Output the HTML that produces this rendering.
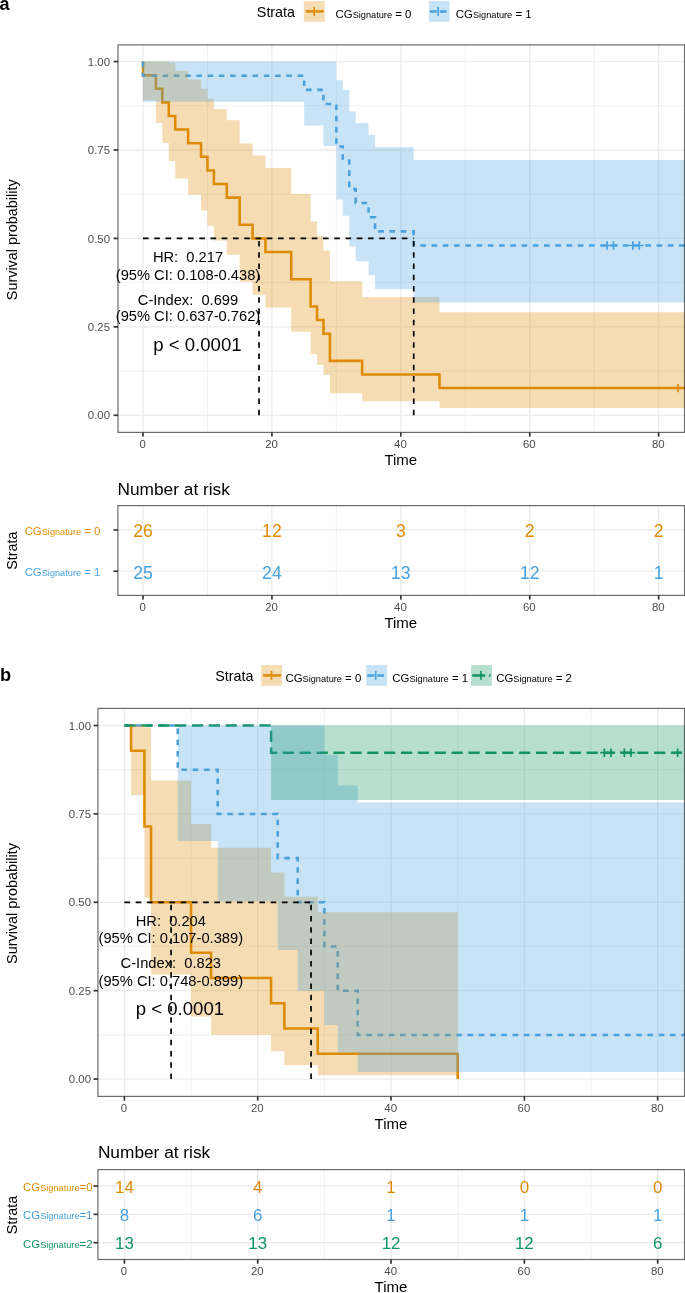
<!DOCTYPE html>
<html><head><meta charset="utf-8"><style>
html,body{margin:0;padding:0;background:#fff;width:685px;height:1293px;overflow:hidden}
svg{display:block;position:absolute;left:0;top:0;font-family:"Liberation Sans", sans-serif;will-change:transform}
</style></head><body>
<svg width="685" height="1293" viewBox="0 0 685 1293">
<rect width="685" height="1293" fill="#fff"/>
<text x="-0.40" y="10.30" font-size="18.0" fill="#000" text-anchor="start" font-weight="bold">a</text>
<text x="295.00" y="17.20" font-size="14.3" fill="#000" text-anchor="end" >Strata</text>
<rect x="303.90" y="1.00" width="20.8" height="20.8" fill="#DE8B04" fill-opacity="0.3"/><path d="M305.80,11.40H323.80" stroke="#DE8B04" stroke-width="2.5" fill="none"/><line x1="314.20" y1="7.00" x2="314.20" y2="15.80" stroke="#DE8B04" stroke-width="1.7"/>
<text x="335.60" y="17.70" fill="#000" text-anchor="start" xml:space="preserve"><tspan font-size="11.4">CG</tspan><tspan font-size="9.2" dy="0">Signature</tspan><tspan font-size="11.4" dy="0"> = 0</tspan></text>
<rect x="428.80" y="1.00" width="20.8" height="20.8" fill="#48A2DE" fill-opacity="0.3"/><path d="M429.80,11.40H436.90M439.80,11.40H446.60" stroke="#48A2DE" stroke-width="2.5" fill="none"/><line x1="438.20" y1="7.00" x2="438.20" y2="15.80" stroke="#48A2DE" stroke-width="1.7"/>
<text x="455.80" y="17.70" fill="#000" text-anchor="start" xml:space="preserve"><tspan font-size="11.4">CG</tspan><tspan font-size="9.2" dy="0">Signature</tspan><tspan font-size="11.4" dy="0"> = 1</tspan></text>
<clipPath id="ca"><rect x="117.22" y="43.86" width="567.78" height="389.13"/></clipPath>
<line x1="207.46" y1="43.86" x2="207.46" y2="432.99" stroke="#EBEBEB" stroke-width="0.7"/>
<line x1="336.37" y1="43.86" x2="336.37" y2="432.99" stroke="#EBEBEB" stroke-width="0.7"/>
<line x1="465.28" y1="43.86" x2="465.28" y2="432.99" stroke="#EBEBEB" stroke-width="0.7"/>
<line x1="594.19" y1="43.86" x2="594.19" y2="432.99" stroke="#EBEBEB" stroke-width="0.7"/>
<line x1="117.22" y1="371.08" x2="685.00" y2="371.08" stroke="#EBEBEB" stroke-width="0.7"/>
<line x1="117.22" y1="282.64" x2="685.00" y2="282.64" stroke="#EBEBEB" stroke-width="0.7"/>
<line x1="117.22" y1="194.21" x2="685.00" y2="194.21" stroke="#EBEBEB" stroke-width="0.7"/>
<line x1="117.22" y1="105.77" x2="685.00" y2="105.77" stroke="#EBEBEB" stroke-width="0.7"/>
<line x1="143.00" y1="43.86" x2="143.00" y2="432.99" stroke="#EBEBEB" stroke-width="1.3"/>
<line x1="271.91" y1="43.86" x2="271.91" y2="432.99" stroke="#EBEBEB" stroke-width="1.3"/>
<line x1="400.82" y1="43.86" x2="400.82" y2="432.99" stroke="#EBEBEB" stroke-width="1.3"/>
<line x1="529.74" y1="43.86" x2="529.74" y2="432.99" stroke="#EBEBEB" stroke-width="1.3"/>
<line x1="658.65" y1="43.86" x2="658.65" y2="432.99" stroke="#EBEBEB" stroke-width="1.3"/>
<line x1="117.22" y1="415.30" x2="685.00" y2="415.30" stroke="#EBEBEB" stroke-width="1.3"/>
<line x1="117.22" y1="326.86" x2="685.00" y2="326.86" stroke="#EBEBEB" stroke-width="1.3"/>
<line x1="117.22" y1="238.43" x2="685.00" y2="238.43" stroke="#EBEBEB" stroke-width="1.3"/>
<line x1="117.22" y1="149.99" x2="685.00" y2="149.99" stroke="#EBEBEB" stroke-width="1.3"/>
<line x1="117.22" y1="61.55" x2="685.00" y2="61.55" stroke="#EBEBEB" stroke-width="1.3"/>
<g clip-path="url(#ca)">
<path d="M143.00,61.55H143.00V75.16H155.89V88.76H162.34V102.37H168.78V115.97H175.23V129.58H188.12V143.18H201.01V156.79H207.46V170.40H213.90V184.00H226.79V197.61H239.68V224.82H252.58V238.43H265.47V252.03H291.25V279.24H310.59V306.45H317.03V320.06H323.48V333.67H329.92V360.88H362.15V374.48H439.50V388.09H723.10" fill="none" stroke="#DE8B04" stroke-width="2.55"/>
<path d="M143.00,61.55H143.00V75.70H304.14V89.85H323.48V104.00H336.37V146.45H342.81V160.60H349.26V188.90H355.70V203.05H368.60V217.20H375.04V231.35H413.72V245.50H723.10" fill="none" stroke="#48A2DE" stroke-width="2.55" stroke-dasharray="5.625 5.625"/>
<path d="M143.00,61.55 L155.89,61.55 L155.89,61.55 L162.34,61.55 L162.34,61.55 L168.78,61.55 L168.78,62.66 L175.23,62.66 L175.23,70.63 L188.12,70.63 L188.12,79.42 L201.01,79.42 L201.01,88.86 L207.46,88.86 L207.46,98.86 L213.90,98.86 L213.90,109.36 L226.79,109.36 L226.79,120.30 L239.68,120.30 L239.68,143.40 L252.58,143.40 L252.58,155.52 L265.47,155.52 L265.47,168.00 L291.25,168.00 L291.25,194.05 L310.59,194.05 L310.59,221.56 L317.03,221.56 L317.03,235.89 L323.48,235.89 L323.48,250.61 L329.92,250.61 L329.92,281.24 L362.15,281.24 L362.15,296.98 L439.50,296.98 L439.50,312.25 L723.10,312.25 L723.10,408.11 L439.50,408.11 L439.50,401.22 L362.15,401.22 L362.15,393.21 L329.92,393.21 L329.92,374.83 L323.48,374.83 L323.48,364.74 L317.03,364.74 L317.03,354.15 L310.59,354.15 L310.59,331.63 L291.25,331.63 L291.25,307.51 L265.47,307.51 L265.47,294.87 L252.58,294.87 L252.58,281.86 L239.68,281.86 L239.68,254.65 L226.79,254.65 L226.79,240.43 L213.90,240.43 L213.90,225.76 L207.46,225.76 L207.46,210.59 L201.01,210.59 L201.01,194.85 L188.12,194.85 L188.12,178.44 L175.23,178.44 L175.23,161.22 L168.78,161.22 L168.78,142.93 L162.34,142.93 L162.34,123.06 L155.89,123.06 L155.89,100.33 L143.00,100.33Z" fill="#DE8B04" fill-opacity="0.3" stroke="none"/>
<path d="M143.00,61.55 L304.14,61.55 L304.14,61.55 L323.48,61.55 L323.48,61.55 L336.37,61.55 L336.37,80.20 L342.81,80.20 L342.81,90.07 L349.26,90.07 L349.26,111.52 L355.70,111.52 L355.70,122.99 L368.60,122.99 L368.60,134.89 L375.04,134.89 L375.04,147.22 L413.72,147.22 L413.72,159.95 L723.10,159.95 L723.10,302.39 L413.72,302.39 L413.72,289.08 L375.04,289.08 L375.04,275.35 L368.60,275.35 L368.60,261.19 L355.70,261.19 L355.70,246.57 L349.26,246.57 L349.26,215.84 L342.81,215.84 L342.81,199.60 L336.37,199.60 L336.37,145.95 L323.48,145.95 L323.48,125.38 L304.14,125.38 L304.14,101.81 L143.00,101.81Z" fill="#48A2DE" fill-opacity="0.3" stroke="none"/>
<path d="M673.78,388.09H682.18M677.98,383.89V392.29" stroke="#DE8B04" stroke-width="1.7" fill="none"/>
<path d="M602.88,245.50H611.28M607.08,241.30V249.70" stroke="#48A2DE" stroke-width="1.7" fill="none"/>
<path d="M609.33,245.50H617.73M613.53,241.30V249.70" stroke="#48A2DE" stroke-width="1.7" fill="none"/>
<path d="M628.67,245.50H637.07M632.87,241.30V249.70" stroke="#48A2DE" stroke-width="1.7" fill="none"/>
<path d="M635.11,245.50H643.51M639.31,241.30V249.70" stroke="#48A2DE" stroke-width="1.7" fill="none"/>
<path d="M143.00,238.43H413.72" stroke="#000" stroke-width="1.7" stroke-dasharray="5.625 5.625" fill="none"/>
<path d="M259.02,415.30V238.43" stroke="#000" stroke-width="1.7" stroke-dasharray="5.625 5.625" fill="none"/>
<path d="M413.72,415.30V238.43" stroke="#000" stroke-width="1.7" stroke-dasharray="5.625 5.625" fill="none"/>
</g>
<text x="188.00" y="261.80" font-size="14.7" fill="#000" text-anchor="middle" xml:space="preserve">HR:  0.217</text>
<text x="188.00" y="279.60" font-size="14.7" fill="#000" text-anchor="middle" xml:space="preserve">(95% CI: 0.108-0.438)</text>
<text x="188.00" y="304.50" font-size="14.7" fill="#000" text-anchor="middle" xml:space="preserve">C-Index:  0.699</text>
<text x="188.00" y="320.90" font-size="14.7" fill="#000" text-anchor="middle" xml:space="preserve">(95% CI: 0.637-0.762)</text>
<text x="197.40" y="351.20" font-size="18.6" fill="#000" text-anchor="middle" xml:space="preserve">p &lt; 0.0001</text>
<rect x="118.00" y="44.90" width="566.50" height="387.50" fill="none" stroke="#333333" stroke-width="1.2" stroke-opacity="0.72"/>
<line x1="143.00" y1="432.40" x2="143.00" y2="436.60" stroke="#333333" stroke-width="1.7"/>
<text x="142.60" y="448.00" font-size="11.4" fill="#4D4D4D" text-anchor="middle" >0</text>
<line x1="271.91" y1="432.40" x2="271.91" y2="436.60" stroke="#333333" stroke-width="1.7"/>
<text x="271.51" y="448.00" font-size="11.4" fill="#4D4D4D" text-anchor="middle" >20</text>
<line x1="400.82" y1="432.40" x2="400.82" y2="436.60" stroke="#333333" stroke-width="1.7"/>
<text x="400.42" y="448.00" font-size="11.4" fill="#4D4D4D" text-anchor="middle" >40</text>
<line x1="529.74" y1="432.40" x2="529.74" y2="436.60" stroke="#333333" stroke-width="1.7"/>
<text x="529.34" y="448.00" font-size="11.4" fill="#4D4D4D" text-anchor="middle" >60</text>
<line x1="658.65" y1="432.40" x2="658.65" y2="436.60" stroke="#333333" stroke-width="1.7"/>
<text x="658.25" y="448.00" font-size="11.4" fill="#4D4D4D" text-anchor="middle" >80</text>
<line x1="113.60" y1="415.30" x2="118.00" y2="415.30" stroke="#333333" stroke-width="1.7"/>
<line x1="113.60" y1="326.86" x2="118.00" y2="326.86" stroke="#333333" stroke-width="1.7"/>
<line x1="113.60" y1="238.43" x2="118.00" y2="238.43" stroke="#333333" stroke-width="1.7"/>
<line x1="113.60" y1="149.99" x2="118.00" y2="149.99" stroke="#333333" stroke-width="1.7"/>
<line x1="113.60" y1="61.55" x2="118.00" y2="61.55" stroke="#333333" stroke-width="1.7"/>
<text x="110.00" y="419.40" font-size="11.4" fill="#4D4D4D" text-anchor="end" >0.00</text>
<text x="110.00" y="330.96" font-size="11.4" fill="#4D4D4D" text-anchor="end" >0.25</text>
<text x="110.00" y="242.53" font-size="11.4" fill="#4D4D4D" text-anchor="end" >0.50</text>
<text x="110.00" y="154.09" font-size="11.4" fill="#4D4D4D" text-anchor="end" >0.75</text>
<text x="110.00" y="65.65" font-size="11.4" fill="#4D4D4D" text-anchor="end" >1.00</text>
<text x="400.80" y="465.00" font-size="15.0" fill="#000" text-anchor="middle" >Time</text>
<text transform="translate(17.0,239.8) rotate(-90)" font-size="14.4" fill="#000" text-anchor="middle">Survival probability</text>
<text x="117.50" y="494.50" font-size="17.3" fill="#000" text-anchor="start" >Number at risk</text>
<line x1="207.46" y1="505.00" x2="207.46" y2="596.00" stroke="#EBEBEB" stroke-width="0.7"/>
<line x1="336.37" y1="505.00" x2="336.37" y2="596.00" stroke="#EBEBEB" stroke-width="0.7"/>
<line x1="465.28" y1="505.00" x2="465.28" y2="596.00" stroke="#EBEBEB" stroke-width="0.7"/>
<line x1="594.19" y1="505.00" x2="594.19" y2="596.00" stroke="#EBEBEB" stroke-width="0.7"/>
<line x1="143.00" y1="505.00" x2="143.00" y2="596.00" stroke="#EBEBEB" stroke-width="1.3"/>
<line x1="271.91" y1="505.00" x2="271.91" y2="596.00" stroke="#EBEBEB" stroke-width="1.3"/>
<line x1="400.82" y1="505.00" x2="400.82" y2="596.00" stroke="#EBEBEB" stroke-width="1.3"/>
<line x1="529.74" y1="505.00" x2="529.74" y2="596.00" stroke="#EBEBEB" stroke-width="1.3"/>
<line x1="658.65" y1="505.00" x2="658.65" y2="596.00" stroke="#EBEBEB" stroke-width="1.3"/>
<line x1="117.22" y1="530.00" x2="685.00" y2="530.00" stroke="#EBEBEB" stroke-width="1.3"/>
<line x1="117.22" y1="571.20" x2="685.00" y2="571.20" stroke="#EBEBEB" stroke-width="1.3"/>
<text x="143.00" y="537.40" font-size="17.6" fill="#DE8B04" text-anchor="middle" >26</text>
<text x="271.91" y="537.40" font-size="17.6" fill="#DE8B04" text-anchor="middle" >12</text>
<text x="400.82" y="537.40" font-size="17.6" fill="#DE8B04" text-anchor="middle" >3</text>
<text x="529.74" y="537.40" font-size="17.6" fill="#DE8B04" text-anchor="middle" >2</text>
<text x="658.65" y="537.40" font-size="17.6" fill="#DE8B04" text-anchor="middle" >2</text>
<text x="143.00" y="578.60" font-size="17.6" fill="#48A2DE" text-anchor="middle" >25</text>
<text x="271.91" y="578.60" font-size="17.6" fill="#48A2DE" text-anchor="middle" >24</text>
<text x="400.82" y="578.60" font-size="17.6" fill="#48A2DE" text-anchor="middle" >13</text>
<text x="529.74" y="578.60" font-size="17.6" fill="#48A2DE" text-anchor="middle" >12</text>
<text x="658.65" y="578.60" font-size="17.6" fill="#48A2DE" text-anchor="middle" >1</text>
<rect x="117.90" y="505.60" width="566.60" height="89.80" fill="none" stroke="#333333" stroke-width="1.2" stroke-opacity="0.72"/>
<line x1="113.50" y1="530.00" x2="117.90" y2="530.00" stroke="#333333" stroke-width="1.7"/>
<line x1="113.50" y1="571.20" x2="117.90" y2="571.20" stroke="#333333" stroke-width="1.7"/>
<text x="100.40" y="534.80" fill="#DE8B04" text-anchor="end" xml:space="preserve"><tspan font-size="11.4">CG</tspan><tspan font-size="9.2" dy="0">Signature</tspan><tspan font-size="11.4" dy="0"> = 0</tspan></text>
<text x="100.40" y="576.00" fill="#48A2DE" text-anchor="end" xml:space="preserve"><tspan font-size="11.4">CG</tspan><tspan font-size="9.2" dy="0">Signature</tspan><tspan font-size="11.4" dy="0"> = 1</tspan></text>
<line x1="143.00" y1="595.40" x2="143.00" y2="599.60" stroke="#333333" stroke-width="1.7"/>
<text x="142.60" y="611.00" font-size="11.4" fill="#4D4D4D" text-anchor="middle" >0</text>
<line x1="271.91" y1="595.40" x2="271.91" y2="599.60" stroke="#333333" stroke-width="1.7"/>
<text x="271.51" y="611.00" font-size="11.4" fill="#4D4D4D" text-anchor="middle" >20</text>
<line x1="400.82" y1="595.40" x2="400.82" y2="599.60" stroke="#333333" stroke-width="1.7"/>
<text x="400.42" y="611.00" font-size="11.4" fill="#4D4D4D" text-anchor="middle" >40</text>
<line x1="529.74" y1="595.40" x2="529.74" y2="599.60" stroke="#333333" stroke-width="1.7"/>
<text x="529.34" y="611.00" font-size="11.4" fill="#4D4D4D" text-anchor="middle" >60</text>
<line x1="658.65" y1="595.40" x2="658.65" y2="599.60" stroke="#333333" stroke-width="1.7"/>
<text x="658.25" y="611.00" font-size="11.4" fill="#4D4D4D" text-anchor="middle" >80</text>
<text x="400.80" y="628.40" font-size="15.0" fill="#000" text-anchor="middle" >Time</text>
<text transform="translate(17.0,550.6) rotate(-90)" font-size="14.4" fill="#000" text-anchor="middle">Strata</text>
<text x="-0.10" y="681.00" font-size="18.2" fill="#000" text-anchor="start" font-weight="bold">b</text>
<text x="253.40" y="681.00" font-size="14.3" fill="#000" text-anchor="end" >Strata</text>
<rect x="261.20" y="665.00" width="20.8" height="20.8" fill="#DE8B04" fill-opacity="0.3"/><path d="M263.10,675.40H281.10" stroke="#DE8B04" stroke-width="2.5" fill="none"/><line x1="271.50" y1="671.00" x2="271.50" y2="679.80" stroke="#DE8B04" stroke-width="1.7"/>
<text x="285.50" y="681.60" fill="#000" text-anchor="start" xml:space="preserve"><tspan font-size="11.4">CG</tspan><tspan font-size="9.2" dy="0">Signature</tspan><tspan font-size="11.4" dy="0"> = 0</tspan></text>
<rect x="366.30" y="665.00" width="20.8" height="20.8" fill="#48A2DE" fill-opacity="0.3"/><path d="M367.30,675.40H374.40M377.30,675.40H384.10" stroke="#48A2DE" stroke-width="2.5" fill="none"/><line x1="375.70" y1="671.00" x2="375.70" y2="679.80" stroke="#48A2DE" stroke-width="1.7"/>
<text x="392.30" y="681.60" fill="#000" text-anchor="start" xml:space="preserve"><tspan font-size="11.4">CG</tspan><tspan font-size="9.2" dy="0">Signature</tspan><tspan font-size="11.4" dy="0"> = 1</tspan></text>
<rect x="471.10" y="665.00" width="20.8" height="20.8" fill="#129462" fill-opacity="0.3"/><path d="M472.20,675.40H485.20M489.00,675.40H490.50" stroke="#129462" stroke-width="2.5" fill="none"/><line x1="481.00" y1="671.00" x2="481.00" y2="679.80" stroke="#129462" stroke-width="1.7"/>
<text x="496.20" y="681.60" fill="#000" text-anchor="start" xml:space="preserve"><tspan font-size="11.4">CG</tspan><tspan font-size="9.2" dy="0">Signature</tspan><tspan font-size="11.4" dy="0"> = 2</tspan></text>
<clipPath id="cb"><rect x="97.74" y="707.40" width="587.26" height="389.40"/></clipPath>
<line x1="191.06" y1="707.40" x2="191.06" y2="1096.80" stroke="#EBEBEB" stroke-width="0.7"/>
<line x1="324.38" y1="707.40" x2="324.38" y2="1096.80" stroke="#EBEBEB" stroke-width="0.7"/>
<line x1="457.70" y1="707.40" x2="457.70" y2="1096.80" stroke="#EBEBEB" stroke-width="0.7"/>
<line x1="591.02" y1="707.40" x2="591.02" y2="1096.80" stroke="#EBEBEB" stroke-width="0.7"/>
<line x1="97.74" y1="1034.90" x2="685.00" y2="1034.90" stroke="#EBEBEB" stroke-width="0.7"/>
<line x1="97.74" y1="946.50" x2="685.00" y2="946.50" stroke="#EBEBEB" stroke-width="0.7"/>
<line x1="97.74" y1="858.10" x2="685.00" y2="858.10" stroke="#EBEBEB" stroke-width="0.7"/>
<line x1="97.74" y1="769.70" x2="685.00" y2="769.70" stroke="#EBEBEB" stroke-width="0.7"/>
<line x1="124.40" y1="707.40" x2="124.40" y2="1096.80" stroke="#EBEBEB" stroke-width="1.3"/>
<line x1="257.72" y1="707.40" x2="257.72" y2="1096.80" stroke="#EBEBEB" stroke-width="1.3"/>
<line x1="391.04" y1="707.40" x2="391.04" y2="1096.80" stroke="#EBEBEB" stroke-width="1.3"/>
<line x1="524.36" y1="707.40" x2="524.36" y2="1096.80" stroke="#EBEBEB" stroke-width="1.3"/>
<line x1="657.68" y1="707.40" x2="657.68" y2="1096.80" stroke="#EBEBEB" stroke-width="1.3"/>
<line x1="97.74" y1="1079.10" x2="685.00" y2="1079.10" stroke="#EBEBEB" stroke-width="1.3"/>
<line x1="97.74" y1="990.70" x2="685.00" y2="990.70" stroke="#EBEBEB" stroke-width="1.3"/>
<line x1="97.74" y1="902.30" x2="685.00" y2="902.30" stroke="#EBEBEB" stroke-width="1.3"/>
<line x1="97.74" y1="813.90" x2="685.00" y2="813.90" stroke="#EBEBEB" stroke-width="1.3"/>
<line x1="97.74" y1="725.50" x2="685.00" y2="725.50" stroke="#EBEBEB" stroke-width="1.3"/>
<g clip-path="url(#cb)">
<path d="M124.40,725.50H124.40V725.50H131.07V750.76H144.40V826.53H151.06V902.30H191.06V952.81H211.06V978.07H271.05V1003.33H284.38V1028.59H317.71V1053.84H457.70V1079.10H457.70" fill="none" stroke="#DE8B04" stroke-width="2.55"/>
<path d="M124.40,725.50H124.40V725.50H177.73V769.70H217.72V813.90H277.72V858.10H297.72V902.30H324.38V946.50H337.71V990.70H357.71V1034.90H724.34" fill="none" stroke="#48A2DE" stroke-width="2.55" stroke-dasharray="5.625 5.625"/>
<path d="M124.40,725.50H124.40V725.50H271.05V752.70H724.34" fill="none" stroke="#129462" stroke-width="2.55" stroke-dasharray="11.25 5.625"/>
<path d="M124.40,725.50 L131.07,725.50 L131.07,725.50 L144.40,725.50 L144.40,727.32 L151.06,727.32 L151.06,780.58 L191.06,780.58 L191.06,824.08 L211.06,824.08 L211.06,847.81 L271.05,847.81 L271.05,872.50 L284.38,872.50 L284.38,896.85 L317.71,896.85 L317.71,912.13 L457.70,912.13 L457.70,1075.28 L317.71,1075.28 L317.71,1065.10 L284.38,1065.10 L284.38,1051.31 L271.05,1051.31 L271.05,1034.97 L211.06,1034.97 L211.06,1016.56 L191.06,1016.56 L191.06,974.39 L151.06,974.39 L151.06,897.76 L144.40,897.76 L144.40,795.16 L131.07,795.16 L131.07,725.50 L124.40,725.50Z" fill="#DE8B04" fill-opacity="0.3" stroke="none"/>
<path d="M124.40,725.50 L177.73,725.50 L177.73,725.50 L217.72,725.50 L217.72,725.50 L277.72,725.50 L277.72,725.50 L297.72,725.50 L297.72,725.56 L324.38,725.56 L324.38,754.71 L337.71,754.71 L337.71,785.53 L357.71,785.53 L357.71,802.62 L724.34,802.62 L724.34,1072.03 L357.71,1072.03 L357.71,1052.48 L337.71,1052.48 L337.71,1024.90 L324.38,1024.90 L324.38,990.68 L297.72,990.68 L297.72,949.90 L277.72,949.90 L277.72,901.35 L217.72,901.35 L217.72,840.99 L177.73,840.99 L177.73,725.50 L124.40,725.50Z" fill="#48A2DE" fill-opacity="0.3" stroke="none"/>
<path d="M124.40,725.50 L271.05,725.50 L271.05,725.50 L724.34,725.50 L724.34,800.10 L271.05,800.10 L271.05,725.50 L124.40,725.50Z" fill="#129462" fill-opacity="0.3" stroke="none"/>
<path d="M600.15,752.70H608.55M604.35,748.50V756.90" stroke="#129462" stroke-width="1.7" fill="none"/>
<path d="M606.82,752.70H615.22M611.02,748.50V756.90" stroke="#129462" stroke-width="1.7" fill="none"/>
<path d="M620.15,752.70H628.55M624.35,748.50V756.90" stroke="#129462" stroke-width="1.7" fill="none"/>
<path d="M626.82,752.70H635.22M631.02,748.50V756.90" stroke="#129462" stroke-width="1.7" fill="none"/>
<path d="M673.48,752.70H681.88M677.68,748.50V756.90" stroke="#129462" stroke-width="1.7" fill="none"/>
<path d="M124.40,902.30H311.05" stroke="#000" stroke-width="1.7" stroke-dasharray="5.625 5.625" fill="none"/>
<path d="M171.06,1079.10V902.30" stroke="#000" stroke-width="1.7" stroke-dasharray="5.625 5.625" fill="none"/>
<path d="M311.05,1079.10V902.30" stroke="#000" stroke-width="1.7" stroke-dasharray="5.625 5.625" fill="none"/>
</g>
<text x="170.80" y="925.60" font-size="14.7" fill="#000" text-anchor="middle" xml:space="preserve">HR:  0.204</text>
<text x="170.80" y="942.90" font-size="14.7" fill="#000" text-anchor="middle" xml:space="preserve">(95% CI: 0.107-0.389)</text>
<text x="170.80" y="968.10" font-size="14.7" fill="#000" text-anchor="middle" xml:space="preserve">C-Index:  0.823</text>
<text x="170.80" y="985.70" font-size="14.7" fill="#000" text-anchor="middle" xml:space="preserve">(95% CI: 0.748-0.899)</text>
<text x="179.90" y="1014.80" font-size="18.6" fill="#000" text-anchor="middle" xml:space="preserve">p &lt; 0.0001</text>
<rect x="97.95" y="708.40" width="586.55" height="388.00" fill="none" stroke="#333333" stroke-width="1.2" stroke-opacity="0.72"/>
<line x1="124.40" y1="1096.40" x2="124.40" y2="1100.60" stroke="#333333" stroke-width="1.7"/>
<text x="124.00" y="1112.00" font-size="11.4" fill="#4D4D4D" text-anchor="middle" >0</text>
<line x1="257.72" y1="1096.40" x2="257.72" y2="1100.60" stroke="#333333" stroke-width="1.7"/>
<text x="257.32" y="1112.00" font-size="11.4" fill="#4D4D4D" text-anchor="middle" >20</text>
<line x1="391.04" y1="1096.40" x2="391.04" y2="1100.60" stroke="#333333" stroke-width="1.7"/>
<text x="390.64" y="1112.00" font-size="11.4" fill="#4D4D4D" text-anchor="middle" >40</text>
<line x1="524.36" y1="1096.40" x2="524.36" y2="1100.60" stroke="#333333" stroke-width="1.7"/>
<text x="523.96" y="1112.00" font-size="11.4" fill="#4D4D4D" text-anchor="middle" >60</text>
<line x1="657.68" y1="1096.40" x2="657.68" y2="1100.60" stroke="#333333" stroke-width="1.7"/>
<text x="657.28" y="1112.00" font-size="11.4" fill="#4D4D4D" text-anchor="middle" >80</text>
<line x1="93.55" y1="1079.10" x2="97.95" y2="1079.10" stroke="#333333" stroke-width="1.7"/>
<line x1="93.55" y1="990.70" x2="97.95" y2="990.70" stroke="#333333" stroke-width="1.7"/>
<line x1="93.55" y1="902.30" x2="97.95" y2="902.30" stroke="#333333" stroke-width="1.7"/>
<line x1="93.55" y1="813.90" x2="97.95" y2="813.90" stroke="#333333" stroke-width="1.7"/>
<line x1="93.55" y1="725.50" x2="97.95" y2="725.50" stroke="#333333" stroke-width="1.7"/>
<text x="91.00" y="1083.20" font-size="11.4" fill="#4D4D4D" text-anchor="end" >0.00</text>
<text x="91.00" y="994.80" font-size="11.4" fill="#4D4D4D" text-anchor="end" >0.25</text>
<text x="91.00" y="906.40" font-size="11.4" fill="#4D4D4D" text-anchor="end" >0.50</text>
<text x="91.00" y="818.00" font-size="11.4" fill="#4D4D4D" text-anchor="end" >0.75</text>
<text x="91.00" y="729.60" font-size="11.4" fill="#4D4D4D" text-anchor="end" >1.00</text>
<text x="391.00" y="1129.00" font-size="15.0" fill="#000" text-anchor="middle" >Time</text>
<text transform="translate(17.0,903.5) rotate(-90)" font-size="14.4" fill="#000" text-anchor="middle">Survival probability</text>
<text x="97.90" y="1157.90" font-size="17.3" fill="#000" text-anchor="start" >Number at risk</text>
<line x1="191.06" y1="1169.00" x2="191.06" y2="1260.00" stroke="#EBEBEB" stroke-width="0.7"/>
<line x1="324.38" y1="1169.00" x2="324.38" y2="1260.00" stroke="#EBEBEB" stroke-width="0.7"/>
<line x1="457.70" y1="1169.00" x2="457.70" y2="1260.00" stroke="#EBEBEB" stroke-width="0.7"/>
<line x1="591.02" y1="1169.00" x2="591.02" y2="1260.00" stroke="#EBEBEB" stroke-width="0.7"/>
<line x1="124.40" y1="1169.00" x2="124.40" y2="1260.00" stroke="#EBEBEB" stroke-width="1.3"/>
<line x1="257.72" y1="1169.00" x2="257.72" y2="1260.00" stroke="#EBEBEB" stroke-width="1.3"/>
<line x1="391.04" y1="1169.00" x2="391.04" y2="1260.00" stroke="#EBEBEB" stroke-width="1.3"/>
<line x1="524.36" y1="1169.00" x2="524.36" y2="1260.00" stroke="#EBEBEB" stroke-width="1.3"/>
<line x1="657.68" y1="1169.00" x2="657.68" y2="1260.00" stroke="#EBEBEB" stroke-width="1.3"/>
<line x1="97.74" y1="1186.00" x2="685.00" y2="1186.00" stroke="#EBEBEB" stroke-width="1.3"/>
<line x1="97.74" y1="1214.35" x2="685.00" y2="1214.35" stroke="#EBEBEB" stroke-width="1.3"/>
<line x1="97.74" y1="1242.70" x2="685.00" y2="1242.70" stroke="#EBEBEB" stroke-width="1.3"/>
<text x="124.40" y="1192.50" font-size="16.9" fill="#DE8B04" text-anchor="middle" >14</text>
<text x="257.72" y="1192.50" font-size="16.9" fill="#DE8B04" text-anchor="middle" >4</text>
<text x="391.04" y="1192.50" font-size="16.9" fill="#DE8B04" text-anchor="middle" >1</text>
<text x="524.36" y="1192.50" font-size="16.9" fill="#DE8B04" text-anchor="middle" >0</text>
<text x="657.68" y="1192.50" font-size="16.9" fill="#DE8B04" text-anchor="middle" >0</text>
<text x="124.40" y="1220.85" font-size="16.9" fill="#48A2DE" text-anchor="middle" >8</text>
<text x="257.72" y="1220.85" font-size="16.9" fill="#48A2DE" text-anchor="middle" >6</text>
<text x="391.04" y="1220.85" font-size="16.9" fill="#48A2DE" text-anchor="middle" >1</text>
<text x="524.36" y="1220.85" font-size="16.9" fill="#48A2DE" text-anchor="middle" >1</text>
<text x="657.68" y="1220.85" font-size="16.9" fill="#48A2DE" text-anchor="middle" >1</text>
<text x="124.40" y="1249.20" font-size="16.9" fill="#129462" text-anchor="middle" >13</text>
<text x="257.72" y="1249.20" font-size="16.9" fill="#129462" text-anchor="middle" >13</text>
<text x="391.04" y="1249.20" font-size="16.9" fill="#129462" text-anchor="middle" >12</text>
<text x="524.36" y="1249.20" font-size="16.9" fill="#129462" text-anchor="middle" >12</text>
<text x="657.68" y="1249.20" font-size="16.9" fill="#129462" text-anchor="middle" >6</text>
<rect x="97.95" y="1169.60" width="586.55" height="89.90" fill="none" stroke="#333333" stroke-width="1.2" stroke-opacity="0.72"/>
<line x1="93.55" y1="1186.00" x2="97.95" y2="1186.00" stroke="#333333" stroke-width="1.7"/>
<line x1="93.55" y1="1214.35" x2="97.95" y2="1214.35" stroke="#333333" stroke-width="1.7"/>
<line x1="93.55" y1="1242.70" x2="97.95" y2="1242.70" stroke="#333333" stroke-width="1.7"/>
<text x="92.50" y="1191.00" fill="#DE8B04" text-anchor="end" xml:space="preserve"><tspan font-size="11.4">CG</tspan><tspan font-size="9.2" dy="0">Signature</tspan><tspan font-size="11.4" dy="0">=0</tspan></text>
<text x="92.50" y="1219.35" fill="#48A2DE" text-anchor="end" xml:space="preserve"><tspan font-size="11.4">CG</tspan><tspan font-size="9.2" dy="0">Signature</tspan><tspan font-size="11.4" dy="0">=1</tspan></text>
<text x="92.50" y="1247.70" fill="#129462" text-anchor="end" xml:space="preserve"><tspan font-size="11.4">CG</tspan><tspan font-size="9.2" dy="0">Signature</tspan><tspan font-size="11.4" dy="0">=2</tspan></text>
<line x1="124.40" y1="1259.50" x2="124.40" y2="1263.70" stroke="#333333" stroke-width="1.7"/>
<text x="124.00" y="1274.90" font-size="11.4" fill="#4D4D4D" text-anchor="middle" >0</text>
<line x1="257.72" y1="1259.50" x2="257.72" y2="1263.70" stroke="#333333" stroke-width="1.7"/>
<text x="257.32" y="1274.90" font-size="11.4" fill="#4D4D4D" text-anchor="middle" >20</text>
<line x1="391.04" y1="1259.50" x2="391.04" y2="1263.70" stroke="#333333" stroke-width="1.7"/>
<text x="390.64" y="1274.90" font-size="11.4" fill="#4D4D4D" text-anchor="middle" >40</text>
<line x1="524.36" y1="1259.50" x2="524.36" y2="1263.70" stroke="#333333" stroke-width="1.7"/>
<text x="523.96" y="1274.90" font-size="11.4" fill="#4D4D4D" text-anchor="middle" >60</text>
<line x1="657.68" y1="1259.50" x2="657.68" y2="1263.70" stroke="#333333" stroke-width="1.7"/>
<text x="657.28" y="1274.90" font-size="11.4" fill="#4D4D4D" text-anchor="middle" >80</text>
<text x="391.00" y="1292.00" font-size="15.0" fill="#000" text-anchor="middle" >Time</text>
<text transform="translate(17.0,1215.0) rotate(-90)" font-size="14.4" fill="#000" text-anchor="middle">Strata</text>
</svg></body></html>
